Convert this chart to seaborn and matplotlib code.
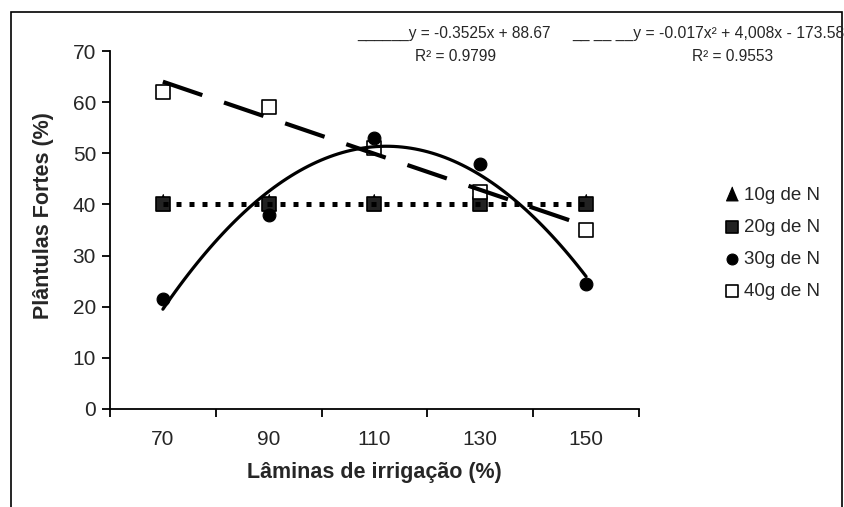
import matplotlib
matplotlib.use("Agg")
import matplotlib.pyplot as plt
import matplotlib.patches as patches
import numpy as np
import seaborn as sns

# Dados
laminas = [70, 90, 110, 130, 150]
n10 = [40, 40, 40, 40, 40]
n20 = [40, 40, 40, 40, 40]
n30 = [21.5, 38, 53, 48, 24.5]
n40 = [62, 59, 51, 42.5, 35]

eq_linear = "______y = -0.3525x + 88.67"
r2_linear = "R² = 0.9799"
eq_quad = "__ __ __y = -0.017x² + 4,008x - 173.58"
r2_quad = "R² = 0.9553"

sns.set_style("white")
plt.rcParams['font.family'] = ['Liberation Sans', 'DejaVu Sans']

fig = plt.figure(figsize=(8.44, 5.07), dpi=100)
ax = fig.add_axes([0.1303, 0.1933, 0.6268, 0.7061])

# Linhas de tendência
sns.regplot(x=np.array(laminas), y=np.array(n10), ax=ax, scatter=False, ci=None,
            line_kws=dict(color='black', lw=3.6, linestyle=(0, (1, 1.6)),
                          dash_capstyle='butt', zorder=8))
sns.regplot(x=np.array(laminas), y=np.array(n40), ax=ax, scatter=False, ci=None,
            line_kws=dict(color='black', lw=3.0, linestyle=(0, (10, 5.5)),
                          dash_capstyle='butt', zorder=8))
sns.regplot(x=np.array(laminas), y=np.array(n30), ax=ax, scatter=False, ci=None,
            order=2, line_kws=dict(color='black', lw=2.3, zorder=8))

# triângulo com a ponta acima do quadrado (como no Excel)
tri = [(0, 1.6), (-1.1, -1), (1.1, -1)]

# Pontos
sns.scatterplot(x=laminas, y=n10, ax=ax, marker=tri, s=215, color='black',
                edgecolor='black', linewidth=0.8, label='10g de N', zorder=5)
sns.scatterplot(x=laminas, y=n20, ax=ax, marker='s', s=88, color='#222222',
                edgecolor='black', linewidth=1.2, label='20g de N', zorder=5.5)
sns.scatterplot(x=laminas, y=n30, ax=ax, marker='o', s=85, color='black',
                edgecolor='black', linewidth=0.8, label='30g de N', zorder=7)
sns.scatterplot(x=laminas, y=n40, ax=ax, marker='s', s=110, color='white',
                edgecolor='black', linewidth=1.2, label='40g de N', zorder=6)

ax.set_xlim(60, 160)
ax.set_ylim(0, 70)
ax.set_yticks(range(0, 71, 10))
ax.set_xticks(range(60, 161, 20))
ax.set_xticklabels([])
ax.set_xticks(laminas, minor=True)
ax.set_xticklabels([str(v) for v in laminas], minor=True)
ax.tick_params(axis='x', which='major', direction='out', length=6, width=1.3,
               color='black', bottom=True)
ax.tick_params(axis='x', which='minor', length=0, pad=15, labelsize=15)
ax.tick_params(axis='y', direction='out', length=6, width=1.3, color='black',
               left=True, pad=4, labelsize=15)

sns.despine(ax=ax)
for s in ['left', 'bottom']:
    ax.spines[s].set_color('black')
    ax.spines[s].set_linewidth(1.3)

ax.set_xlabel("Lâminas de irrigação (%)", fontsize=15.5, fontweight='bold')
ax.set_ylabel("Plântulas Fortes (%)", fontsize=15.5, fontweight='bold')
ax.xaxis.set_label_coords(0.5, -0.148)
ax.yaxis.set_label_coords(-0.105, 0.54)

leg = ax.legend(loc='center left', bbox_to_anchor=(0.849, 0.52),
                bbox_transform=fig.transFigure, frameon=False, fontsize=13.5,
                handlelength=0.6, handletextpad=0.35, labelspacing=0.8,
                borderpad=0, markerscale=0.85)

# Equações
fig.text(0.423, 0.935, eq_linear, fontsize=11.2, va='center', ha='left')
fig.text(0.4917, 0.8876, r2_linear, fontsize=11.2, va='center', ha='left')
fig.text(0.678, 0.935, eq_quad, fontsize=11.3, va='center', ha='left')
fig.text(0.82, 0.8876, r2_quad, fontsize=11.2, va='center', ha='left')

# Moldura externa
fig.patches.append(patches.Rectangle((11 / 844, -0.02), 831 / 844, 1 - 12 / 507 + 0.02,
                                     transform=fig.transFigure, fill=False,
                                     edgecolor='black', linewidth=1.2))

fig.savefig("out.png", dpi=100)
